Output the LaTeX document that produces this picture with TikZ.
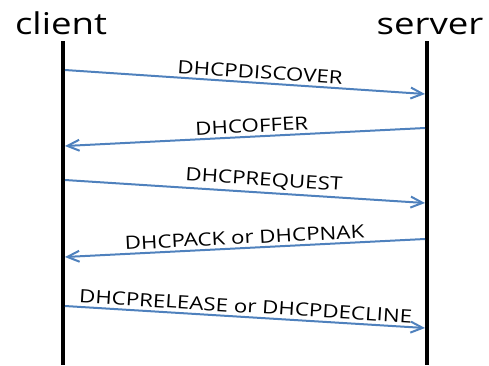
\documentclass[tikz,border=0pt]{standalone}
\usepackage{fontspec}
\setmainfont{Open Sans}
\usetikzlibrary{arrows.meta}
\definecolor{msgblue}{RGB}{79,129,189}
\newcommand{\wide}[1]{\scalebox{1.22}[1]{#1}}

\begin{document}
\begin{tikzpicture}[x=1pt, y=-1pt,
        lifeline/.style={black, line width=4pt},
        msg/.style={msgblue, line width=2pt, -{Straight Barb[length=12pt,width=11pt]}},
        msglabel/.style={above, sloped, text=black, inner sep=3pt, font=\fontsize{18.3}{18}\selectfont},
        actor/.style={anchor=base, inner sep=0pt, font=\fontsize{30}{30}\selectfont}]
        \useasboundingbox (0, 0) rectangle (489, 365);
        \node [actor] at (61, 34) (client) {\wide{client}};
        \node [actor] at (430, 34) (server) {\wide{server}};
        \coordinate (CT) at (63, 41);
        \coordinate (CB) at (63, 365);
        \coordinate (ST) at (427, 41);
        \coordinate (SB) at (427, 365);
        \draw [lifeline] (CT) -- (CB);
        \draw [lifeline] (ST) -- (SB);
        \coordinate (C1) at (65, 70);
        \coordinate (S1) at (425, 94);
        \coordinate (S2) at (425, 128);
        \coordinate (C2) at (65, 146);
        \coordinate (C3) at (65, 180);
        \coordinate (S3) at (425, 203);
        \coordinate (S4) at (425, 239);
        \coordinate (C4) at (65, 257);
        \coordinate (C5) at (65, 306);
        \coordinate (S5) at (425, 328);
        \draw [msg] (C1) -- node [msglabel, pos=0.54] {\wide{DHCPDISCOVER}} (S1);
        \draw [msg] (S2) -- node [msglabel, pos=0.48] {\wide{DHCOFFER}} (C2);
        \draw [msg] (C3) -- node [msglabel, pos=0.55] {\wide{DHCPREQUEST}} (S3);
        \draw [msg] (S4) -- node [msglabel, pos=0.5] {\wide{DHCPACK or DHCPNAK}} (C4);
        \draw [msg] (C5) -- node [msglabel, pos=0.5] {\wide{DHCPRELEASE or DHCPDECLINE}} (S5);
\end{tikzpicture}
\end{document}
